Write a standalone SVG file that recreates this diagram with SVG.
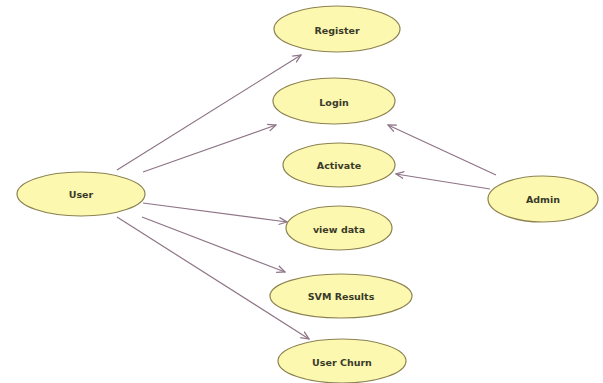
<svg xmlns="http://www.w3.org/2000/svg" width="603" height="383" viewBox="0 0 603 383">
  <style>
    .uc ellipse { fill: #fcf8b0; stroke: #8c8250; stroke-width: 1.2; }
    .uc text { font-family: "DejaVu Sans", Verdana, sans-serif; font-size: 9.5px; font-weight: bold; fill: #3a3a2a; text-anchor: middle; dominant-baseline: central; }
    .conn line { stroke: #8e7486; stroke-width: 1.2; fill: none; marker-end: url(#arrow); }
  </style>
  <defs>
    <marker id="arrow" viewBox="0 0 10 10" refX="9" refY="5" markerWidth="9" markerHeight="9" markerUnits="userSpaceOnUse" orient="auto">
      <path d="M0,1 L9,5 L0,9" fill="none" stroke="#8e7486" stroke-width="1.4"/>
    </marker>
  </defs>
  <rect width="603" height="383" fill="#ffffff"/>

  <g id="connectors" class="conn">
    <line x1="117" y1="170" x2="301" y2="55"/>
    <line x1="143" y1="172" x2="276" y2="125"/>
    <line x1="143" y1="203" x2="287" y2="222"/>
    <line x1="142" y1="217" x2="285" y2="272"/>
    <line x1="117" y1="217" x2="309" y2="339"/>
    <line x1="496" y1="175" x2="388" y2="125"/>
    <line x1="490" y1="189" x2="396" y2="174"/>
  </g>

  <g id="user" class="uc">
    <ellipse cx="81" cy="194" rx="64" ry="22"/>
    <text x="81" y="194">User</text>
  </g>
  <g id="register" class="uc">
    <ellipse cx="337" cy="29" rx="63" ry="23"/>
    <text x="337" y="30">Register</text>
  </g>
  <g id="login" class="uc">
    <ellipse cx="334" cy="101" rx="61" ry="23"/>
    <text x="334" y="102">Login</text>
  </g>
  <g id="activate" class="uc">
    <ellipse cx="339" cy="165" rx="56" ry="22"/>
    <text x="339" y="165">Activate</text>
  </g>
  <g id="view-data" class="uc">
    <ellipse cx="339" cy="228" rx="53" ry="22"/>
    <text x="339" y="229">view data</text>
  </g>
  <g id="svm-results" class="uc">
    <ellipse cx="341" cy="296" rx="71" ry="22"/>
    <text x="341" y="296">SVM Results</text>
  </g>
  <g id="user-churn" class="uc">
    <ellipse cx="342" cy="361" rx="64" ry="22"/>
    <text x="342" y="362">User Churn</text>
  </g>
  <g id="admin" class="uc">
    <ellipse cx="543" cy="199" rx="55" ry="23"/>
    <text x="543" y="199">Admin</text>
  </g>
</svg>
